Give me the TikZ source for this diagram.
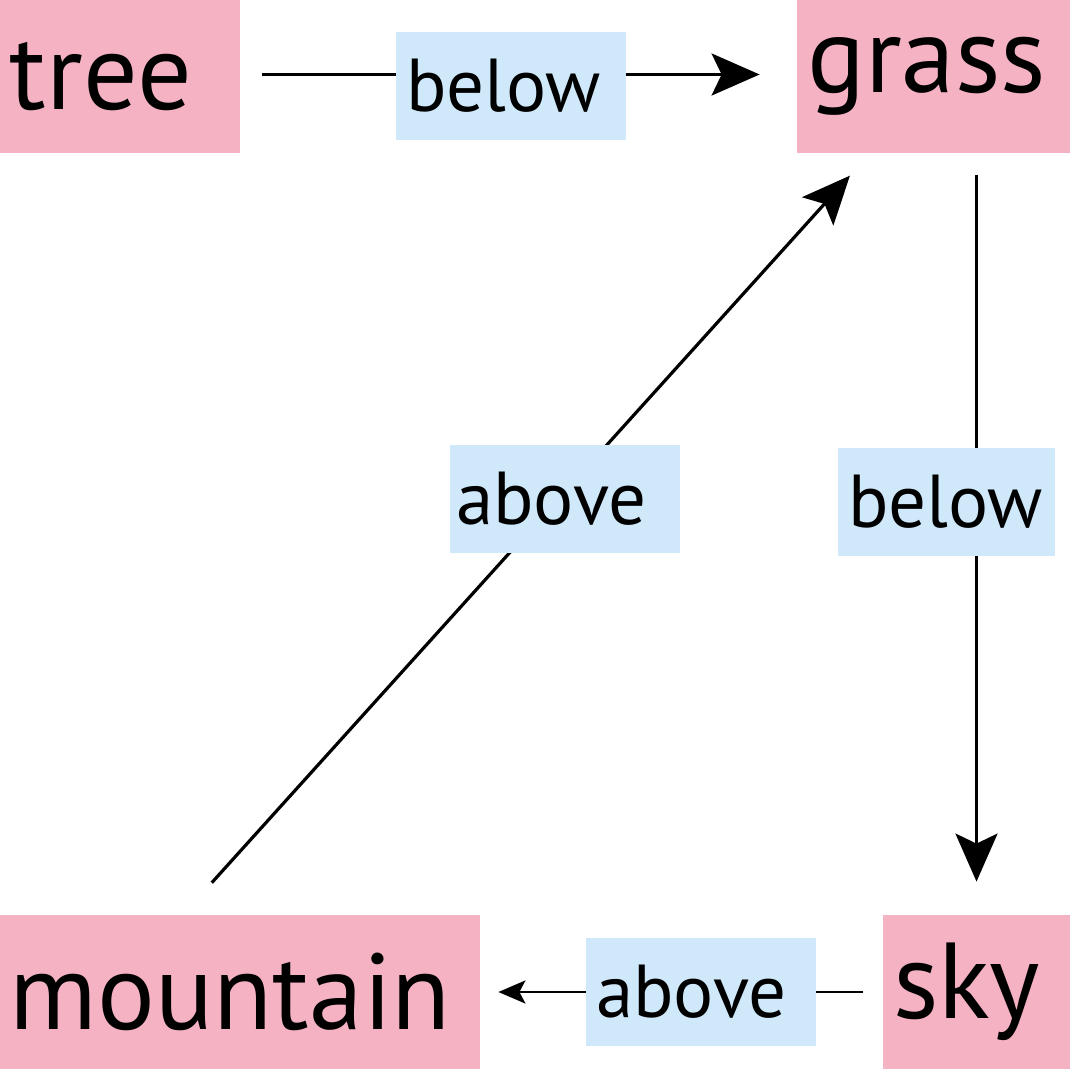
\documentclass[tikz,border=0pt]{standalone}
\usepackage{fontspec}
\setmainfont{PT Sans}
\usetikzlibrary{arrows.meta,calc}
\definecolor{wordpink}{RGB}{244,178,194}
\definecolor{relblue}{RGB}{207,233,250}

\begin{document}
\begin{tikzpicture}[x=0.5pt,y=-0.5pt,
  word/.style={fill=wordpink, inner ysep=0pt, inner xsep=5pt, align=left, text width=#1-10pt, minimum height=76.5pt, font=\fontsize{54}{60}\selectfont},
  rel/.style={fill=relblue, inner ysep=0pt, inner xsep=5pt, align=left, text width=#1-10pt, minimum height=54pt, font=\fontsize{37.5}{42}\selectfont},
  link/.style={line width=1.6pt, -{Stealth[length=24pt,width=21pt,inset=5pt]}}]
\useasboundingbox (0,0) rectangle (1070,1069);
\node[word=120pt] (tree) at (120,76.5) {tree};
\node[word=136.5pt] (grass) at (933.5,76.5) {grass};
\node[word=240pt, minimum height=77pt] (mountain) at (240,992) {mountain};
\node[word=93.5pt, minimum height=77pt] (sky) at (976.5,992) {sky};
\draw[link, shorten <=11pt, shorten >=18.5pt] ([yshift=1pt]tree.east) -- ([yshift=1pt]grass.west);
\draw[link, shorten <=11pt, shorten >=16.5pt] (sky.north |- grass.south) -- (sky.north);
\draw[link, line width=1.4pt, -{Stealth[length=13.5pt,width=11.5pt,inset=3pt]}, shorten <=10pt, shorten >=9pt] (sky.west) -- (mountain.east);
\draw[link, shorten <=21.5pt, shorten >=15pt] ([xshift=-28.5pt]mountain.north) -- ([xshift=-31.75pt]grass.south);
\node[rel=115pt] (belowtg) at (511,86) {below};
\node[rel=108.5pt] (belowgs) at (946.5,502) {below};
\node[rel=119pt, inner xsep=3pt] (abovemg) at (565,499) {above};
\node[rel=115pt] (abovesm) at (701,992) {above};
\end{tikzpicture}
\end{document}
